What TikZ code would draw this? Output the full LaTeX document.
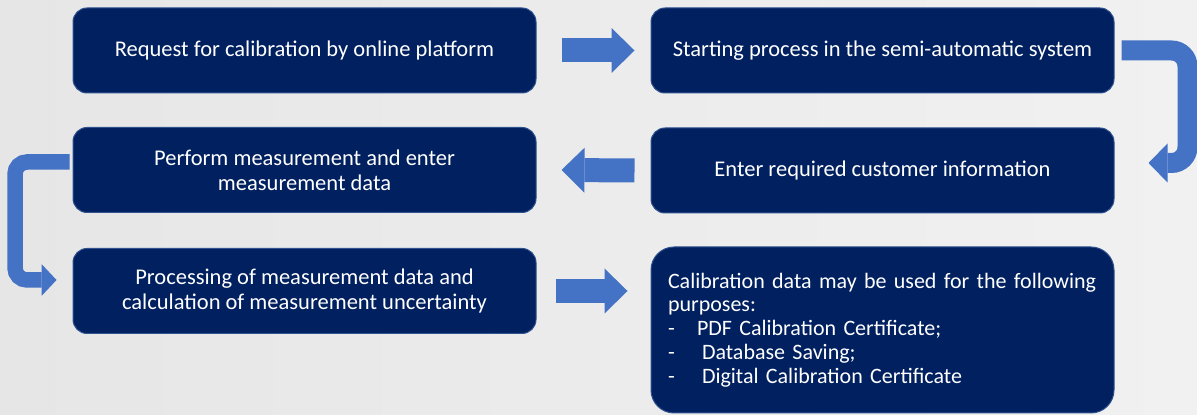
\documentclass[tikz,border=0pt]{standalone}
\usepackage{fontspec}
\setmainfont{Carlito}
\usetikzlibrary{arrows.meta}
\definecolor{boxblue}{HTML}{002060}
\definecolor{boxline}{HTML}{2F528F}
\definecolor{arrblue}{HTML}{4472C4}
\definecolor{bgleft}{HTML}{E6E6E6}
\definecolor{bgright}{HTML}{F1F1F1}
\begin{document}
\begin{tikzpicture}[x=0.5pt,y=-0.5pt,
  box/.style={draw=boxline,line width=.5pt,fill=boxblue,text=white,rounded corners=7pt,
    minimum width=231.5pt,minimum height=42.5pt,align=center,inner sep=0pt,
    font=\fontsize{11.25}{12.4}\selectfont},
  bigbox/.style={box,rounded corners=11.5pt,minimum height=83pt,text width=214.5pt,
    align=left,inner xsep=8.5pt,font=\fontsize{11}{11.9}\selectfont},
  blk/.style={draw=arrblue,line width=12pt,-{Triangle[length=11.5pt,width=22.5pt,line width=0pt]}}]
\fill[left color=bgleft,right color=bgright](0,0)rectangle(1197,415);
\useasboundingbox(0,0)rectangle(1197,415);

\node[box](req) at (304.5,50.5){Request for calibration by online platform};
\node[box](start) at (882.5,50.5){Starting process in the semi-automatic system};
\node[box](perf) at (304.5,170){Perform measurement and enter\\measurement data};
\node[box](cust) at (882.5,170.5){Enter required customer information};
\node[box](proc) at (304.5,291){Processing of measurement data and\\calculation of measurement uncertainty};
\node[bigbox](use) at (882.5,330){\mbox{Calibration data may be used for the following}\\purposes:\\
  \makebox[14.5pt][l]{-}PDF Calibration Certificate;\\
  \makebox[17pt][l]{-}Database Saving;\\
  \makebox[17pt][l]{-}Digital Calibration Certificate};

\coordinate(u) at (use.west|-proc.east);
\draw[blk]([xshift=12.5pt]req.east)--([xshift=-8pt]start.west);
\draw[blk]([xshift=-8pt]cust.west)--([xshift=12.5pt]perf.east);
\draw[blk]([xshift=9.5pt]proc.east)--([xshift=-11.5pt]u);
\draw[blk,line width=10pt,-{Triangle[length=9.5pt,width=19.5pt,line width=0pt]},rounded corners=8pt]
  ([xshift=3.5pt]start.east)-|([xshift=36.5pt,yshift=3.75pt]cust.east)--([xshift=17pt,yshift=3.75pt]cust.east);
\draw[blk,line width=7.75pt,-{Triangle[length=7.5pt,width=16pt,line width=0pt]},rounded corners=6pt]
  ([xshift=-1.5pt,yshift=4pt]perf.west)-|([xshift=-28.75pt,yshift=5.5pt]proc.west)--([xshift=-8pt,yshift=5.5pt]proc.west);
\end{tikzpicture}
\end{document}
